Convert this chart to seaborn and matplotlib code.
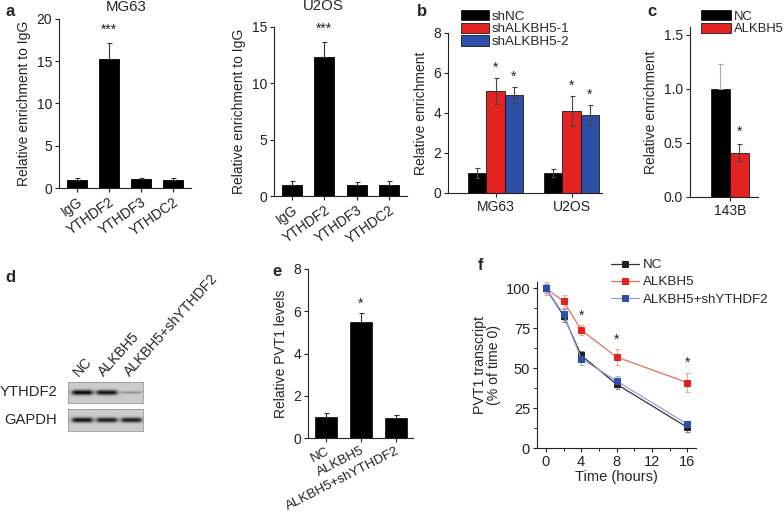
import matplotlib
matplotlib.use("Agg")
import matplotlib.pyplot as plt
from matplotlib.ticker import MultipleLocator, FormatStrFormatter
import numpy as np
import pandas as pd
import seaborn as sns

# ---- panel a: RIP enrichment ----
RIP_TARGETS = ["IgG", "YTHDF2", "YTHDF3", "YTHDC2"]
MG63_RIP = [1.0, 15.3, 1.1, 1.0]
MG63_RIP_ERR = [0.2, 1.9, 0.1, 0.2]
U2OS_RIP = [1.0, 12.3, 1.0, 1.0]
U2OS_RIP_ERR = [0.3, 1.4, 0.25, 0.35]

# ---- panel b: knockdown ----
CELL_LINES = ["MG63", "U2OS"]
SH_GROUPS = ["shNC", "shALKBH5-1", "shALKBH5-2"]
SHNC = [1.0, 1.0]
SHNC_ERR = [0.25, 0.2]
SHALKBH5_1 = [5.1, 4.1]
SHALKBH5_1_ERR = [0.65, 0.75]
SHALKBH5_2 = [4.9, 3.9]
SHALKBH5_2_ERR = [0.4, 0.5]

# ---- panel c: overexpression in 143B ----
OE_GROUPS = ["NC", "ALKBH5"]
OE_143B = [1.0, 0.41]
OE_143B_ERR = [0.23, 0.08]

# ---- panel d: western blot band strengths ----
BLOT_LANES = ["NC", "ALKBH5", "ALKBH5+shYTHDF2"]
YTHDF2_BAND = [1.0, 0.95, 0.3]
GAPDH_BAND = [0.95, 0.9, 0.9]

# ---- panel e: PVT1 levels ----
PVT1_LEVEL = [1.0, 5.5, 0.95]
PVT1_ERR = [0.2, 0.4, 0.15]

# ---- panel f: PVT1 decay ----
TIME_H = [0, 2, 4, 8, 16]
NC_DECAY = [100, 83, 58, 40, 13]
NC_DECAY_ERR = [3, 4, 3, 3, 3]
ALKBH5_DECAY = [100, 92, 74, 57, 41]
ALKBH5_DECAY_ERR = [4, 4, 3, 5, 6]
SHY_DECAY = [100, 84, 56, 42, 15]
SHY_DECAY_ERR = [3, 4, 4, 3, 2]

W, H = 784, 517
RED = "#e2231f"
BLUE = "#2e4fa6"
LABEL_SIZE = 10


def box(left, top, right, bottom):
    """pixel box -> figure fraction rect"""
    return [left / W, 1 - bottom / H, (right - left) / W, (bottom - top) / H]


def fxy(px, py):
    return px / W, 1 - py / H


def style_axis(ax, size=10):
    sns.despine(ax=ax)
    for sp in ("left", "bottom"):
        ax.spines[sp].set_linewidth(0.8)
        ax.spines[sp].set_color("#222222")
    ax.tick_params(direction="out", length=3, width=0.8, labelsize=size, pad=2, colors="#222222")
    ax.set_xlabel("")


def add_errors(ax, bars, errs, color="#333333", upper_only=False):
    xs = [b.get_x() + b.get_width() / 2 for b in bars]
    ys = [b.get_height() for b in bars]
    errs = np.asarray(errs, float)
    yerr = np.vstack([np.zeros_like(errs), errs]) if upper_only else errs
    ax.errorbar(xs, ys, yerr=yerr, fmt="none", ecolor=color, elinewidth=0.8,
                capsize=1.8, capthick=0.8, zorder=3)
    return xs, ys


def add_star(ax, x, y, text="*", offset=7):
    ax.annotate(text, (x, y), xytext=(0, offset), textcoords="offset points",
                ha="center", va="center", fontsize=10, color="#222222")


def rip_panel(fig, rect, values, errs, ylim, step, title, title_xy):
    ax = fig.add_axes(rect)
    sns.barplot(x=RIP_TARGETS, y=values, color="black", width=0.62, ax=ax,
                edgecolor="black", linewidth=0.6, saturation=1)
    xs, ys = add_errors(ax, ax.containers[0], errs, upper_only=True)
    add_star(ax, xs[1], ys[1] + errs[1], "***", offset=9)
    ax.set_xlim(-0.56, 3.56)
    ax.set_ylim(*ylim)
    ax.yaxis.set_major_locator(MultipleLocator(step))
    style_axis(ax)
    plt.setp(ax.get_xticklabels(), rotation=35, ha="right", rotation_mode="anchor", fontsize=10)
    ax.set_ylabel("Relative enrichment to IgG", fontsize=LABEL_SIZE, labelpad=4)
    fig.text(*fxy(*title_xy), title, ha="center", va="center", fontsize=10.8)
    return ax


def blot_strip(fig, rect, strengths, thickness):
    ax = fig.add_axes(rect)
    xs = np.linspace(0, 1, 150)
    ys = np.linspace(0, 1, 40)
    gx, gy = np.meshgrid(xs, ys)
    centers = [0.19, 0.52, 0.85]
    dark = np.zeros_like(gx)
    for c, s in zip(centers, strengths):
        xprof = 1 / (1 + ((gx - c) / 0.135) ** 8)
        yprof = np.exp(-((gy - 0.5) / (thickness * s ** 0.6)) ** 2)
        dark += s * xprof * yprof
    img = np.clip(0.8 - 0.78 * dark, 0, 1)
    ax.imshow(img, cmap="gray", vmin=0, vmax=1, aspect="auto", interpolation="bilinear")
    ax.set_xticks([])
    ax.set_yticks([])
    for sp in ax.spines.values():
        sp.set_color("#999999")
        sp.set_linewidth(0.6)
    return ax


def main() -> None:
    sns.set_theme(style="ticks")
    plt.rcParams["font.family"] = ["Liberation Sans", "DejaVu Sans"]

    fig = plt.figure(figsize=(W / 100, H / 100), dpi=100, facecolor="white")

    # a
    rip_panel(fig, box(59, 19, 191, 188), MG63_RIP, MG63_RIP_ERR, (0, 20), 5, "MG63", (126, 7))
    rip_panel(fig, box(274, 27, 407, 196), U2OS_RIP, U2OS_RIP_ERR, (0, 15), 5, "U2OS", (323, 6))

    # b
    ax_b = fig.add_axes(box(448, 33, 602, 193))
    df_b = pd.DataFrame({
        "cell": CELL_LINES * 3,
        "group": np.repeat(SH_GROUPS, len(CELL_LINES)),
        "value": SHNC + SHALKBH5_1 + SHALKBH5_2,
    })
    sns.barplot(data=df_b, x="cell", y="value", hue="group", hue_order=SH_GROUPS,
                palette=["black", RED, BLUE], width=0.72, saturation=1,
                edgecolor="black", linewidth=0.5, ax=ax_b)
    for cont, errs, star in zip(ax_b.containers, [SHNC_ERR, SHALKBH5_1_ERR, SHALKBH5_2_ERR],
                                [False, True, True]):
        xs, ys = add_errors(ax_b, cont, errs, color="#444444")
        if star:
            for x, y, e in zip(xs, ys, errs):
                add_star(ax_b, x, y + e)
    ax_b.set_xlim(-0.625, 1.40)
    ax_b.set_ylim(0, 8)
    ax_b.yaxis.set_major_locator(MultipleLocator(2))
    style_axis(ax_b)
    ax_b.set_ylabel("Relative enrichment", fontsize=LABEL_SIZE, labelpad=4)
    ax_b.legend(loc="upper left", bbox_to_anchor=fxy(461, 10), bbox_transform=fig.transFigure,
                frameon=False, fontsize=9.6, handlelength=2.1, handleheight=0.8,
                handletextpad=0.2, labelspacing=0.0, borderpad=0, borderaxespad=0)

    # c
    ax_c = fig.add_axes(box(690, 27, 758, 197))
    df_c = pd.DataFrame({"cell": ["143B"] * 2, "group": OE_GROUPS, "value": OE_143B})
    sns.barplot(data=df_c, x="cell", y="value", hue="group", hue_order=OE_GROUPS,
                palette=["black", RED], width=0.8, saturation=1,
                edgecolor="black", linewidth=0.5, ax=ax_c)
    add_errors(ax_c, ax_c.containers[0], OE_143B_ERR[:1], color="#aaaaaa", upper_only=True)
    xs, ys = add_errors(ax_c, ax_c.containers[1], OE_143B_ERR[1:], color="#444444")
    add_star(ax_c, xs[0], ys[0] + OE_143B_ERR[1], offset=9)
    ax_c.set_xlim(-0.84, 0.59)
    ax_c.set_ylim(0, 1.57)
    ax_c.yaxis.set_major_locator(MultipleLocator(0.5))
    ax_c.yaxis.set_major_formatter(FormatStrFormatter("%.1f"))
    style_axis(ax_c)
    ax_c.set_ylabel("Relative enrichment", fontsize=LABEL_SIZE, labelpad=4)
    ax_c.legend(loc="upper left", bbox_to_anchor=fxy(701, 10), bbox_transform=fig.transFigure,
                frameon=False, fontsize=9.4, handlelength=2.3, handleheight=0.85,
                handletextpad=0.2, labelspacing=0.0, borderpad=0, borderaxespad=0)

    # d
    blot_strip(fig, box(68, 382, 143, 403), YTHDF2_BAND, 0.12)
    blot_strip(fig, box(68, 409, 143, 431), GAPDH_BAND, 0.12)
    fig.text(*fxy(57, 392), "YTHDF2", ha="right", va="center", fontsize=10.6)
    fig.text(*fxy(57, 420), "GAPDH", ha="right", va="center", fontsize=10.6)
    for lx, lane in zip([81, 106, 132], BLOT_LANES):
        fig.text(*fxy(lx, 379), lane, rotation=48, ha="left", va="bottom",
                 rotation_mode="anchor", fontsize=10.2)

    # e
    ax_e = fig.add_axes(box(308, 269, 413, 438))
    sns.barplot(x=BLOT_LANES, y=PVT1_LEVEL, color="black", width=0.63, saturation=1,
                edgecolor="black", linewidth=0.5, ax=ax_e)
    xs, ys = add_errors(ax_e, ax_e.containers[0], PVT1_ERR, upper_only=True)
    add_star(ax_e, xs[1], ys[1] + PVT1_ERR[1])
    ax_e.set_xlim(-0.51, 2.49)
    ax_e.set_ylim(0, 8)
    ax_e.yaxis.set_major_locator(MultipleLocator(2))
    style_axis(ax_e)
    plt.setp(ax_e.get_xticklabels(), rotation=27, ha="right", rotation_mode="anchor", fontsize=9.6)
    ax_e.set_ylabel("Relative PVT1 levels", fontsize=LABEL_SIZE, labelpad=4)

    # f
    ax_f = fig.add_axes(box(537, 282, 696, 448))
    series = [
        ("NC", NC_DECAY, NC_DECAY_ERR, "#222222", "#333333", "#8c8c8c"),
        ("ALKBH5", ALKBH5_DECAY, ALKBH5_DECAY_ERR, RED, "#ec6a5e", "#f2a898"),
        ("ALKBH5+shYTHDF2", SHY_DECAY, SHY_DECAY_ERR, BLUE, "#8fa0d2", "#9fb0da"),
    ]
    for name, vals, errs, mcol, lcol, ecol in series:
        ax_f.errorbar(TIME_H, vals, yerr=errs, fmt="none", ecolor=ecol, elinewidth=0.8,
                      capsize=1.8, capthick=0.8, zorder=2)
        sns.lineplot(x=TIME_H, y=vals, ax=ax_f, color=lcol, linewidth=0.9, marker="s",
                     markersize=4, markerfacecolor=mcol, markeredgecolor=mcol,
                     label=name, zorder=3)
    for i in (2, 3, 4):
        add_star(ax_f, TIME_H[i], ALKBH5_DECAY[i] + ALKBH5_DECAY_ERR[i])
    ax_f.set_xlim(-1, 17)
    ax_f.set_ylim(0, 104)
    ax_f.xaxis.set_major_locator(MultipleLocator(4))
    ax_f.xaxis.set_minor_locator(MultipleLocator(2))
    ax_f.yaxis.set_major_locator(MultipleLocator(25))
    ax_f.yaxis.set_minor_locator(MultipleLocator(12.5))
    style_axis(ax_f, size=10.5)
    ax_f.tick_params(which="minor", direction="out", length=2, width=0.7, colors="#222222")
    ax_f.set_xlabel("Time (hours)", fontsize=10.5, labelpad=1)
    ax_f.set_ylabel("PVT1 transcript\n(% of time 0)", fontsize=10.2, labelpad=3, linespacing=1.0)
    ax_f.legend(loc="upper left", bbox_to_anchor=fxy(611, 259), bbox_transform=fig.transFigure,
                frameon=False, fontsize=9.6, handlelength=2.1, handletextpad=0.3,
                labelspacing=0.36, borderpad=0, borderaxespad=0)

    # panel letters
    for letter, px, py in [("a", 10, 12), ("b", 422, 12), ("c", 652, 12),
                           ("d", 10, 277), ("e", 277, 272), ("f", 480, 265)]:
        fig.text(*fxy(px, py), letter, ha="center", va="center", fontsize=12, fontweight="bold")

    fig.savefig("out.png", dpi=100, facecolor="white")


if __name__ == "__main__":
    main()
